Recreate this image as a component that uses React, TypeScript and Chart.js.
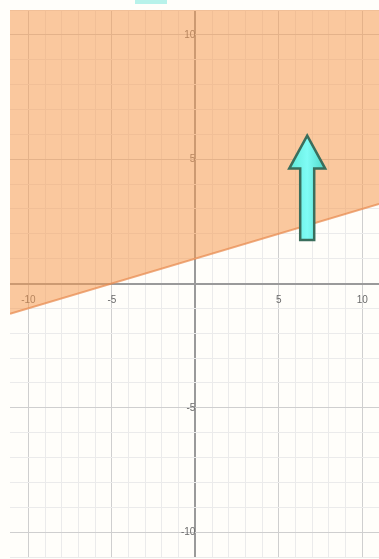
import React, { useEffect, useRef } from "react";
import { Chart, registerables } from "chart.js";

Chart.register(...registerables);

// Boundary line of the inequality y >= 0.2x + 1 (shaded above)
const boundaryX = [-11.1, 11];
const boundaryY = [-1.22, 3.2];

// Axis ranges and labelled ticks
const xRange = [-11.1, 11];
const yRange = [-11, 11];
const labelledTicks = [-10, -5, 5, 10];

// Arrow pointing up into the shaded region
const arrowX = [6.7];
const arrowFromY = [1.75];
const arrowToY = [5.95];

const arrowPlugin = {
  id: "arrowPlugin",
  afterDatasetsDraw(chart: any) {
    const { ctx, scales } = chart;
    const xs = scales.x;
    const ys = scales.y;
    for (let i = 0; i < arrowX.length; i++) {
      const px = xs.getPixelForValue(arrowX[i]);
      const top = ys.getPixelForValue(arrowToY[i]);
      const bottom = ys.getPixelForValue(arrowFromY[i]);
      const headH = 33;
      const headW = 18;
      const shaftW = 7;
      ctx.save();
      ctx.beginPath();
      ctx.moveTo(px, top);
      ctx.lineTo(px + headW, top + headH);
      ctx.lineTo(px + shaftW, top + headH);
      ctx.lineTo(px + shaftW, bottom);
      ctx.lineTo(px - shaftW, bottom);
      ctx.lineTo(px - shaftW, top + headH);
      ctx.lineTo(px - headW, top + headH);
      ctx.closePath();
      const g = ctx.createLinearGradient(px - headW, 0, px + headW, 0);
      g.addColorStop(0, "#5fe8d8");
      g.addColorStop(0.5, "#7ffcf5");
      g.addColorStop(1, "#4fd8c8");
      ctx.fillStyle = g;
      ctx.fill();
      ctx.lineWidth = 2.5;
      ctx.strokeStyle = "#3a6e5c";
      ctx.lineJoin = "miter";
      ctx.stroke();
      ctx.restore();
    }
  },
};

export default function App() {
  const ref = useRef<HTMLCanvasElement | null>(null);

  useEffect(() => {
    if (!ref.current) return;
    const gridColor = (c: any) => {
      const v = c.tick ? c.tick.value : 1;
      if (Math.abs(v) < 1e-9) return "#9a9a9a";
      if (Math.abs(v % 5) < 1e-9) return "#cfcfcf";
      return "#ebebeb";
    };
    const gridWidth = (c: any) => {
      const v = c.tick ? c.tick.value : 1;
      if (Math.abs(v) < 1e-9) return 2;
      if (Math.abs(v - Math.round(v)) > 1e-9) return 0;
      return 1;
    };
    const labelCb = (v: any) => (labelledTicks.includes(Number(v)) ? String(v) : "");
    const chart = new Chart(ref.current, {
      type: "line",
      data: {
        datasets: [
          {
            data: boundaryX.map((x, i) => ({ x, y: boundaryY[i] })),
            borderColor: "rgba(232,140,82,0.75)",
            borderWidth: 2,
            backgroundColor: "rgba(246,155,82,0.55)",
            fill: "end",
            pointRadius: 0,
            tension: 0,
          },
        ],
      },
      options: {
        animation: false,
        responsive: false,
        maintainAspectRatio: false,
        layout: { padding: { left: 10, top: 10, right: 0, bottom: 2 } },
        plugins: { legend: { display: false }, tooltip: { enabled: false } },
        scales: {
          x: {
            type: "linear",
            position: { y: 0 } as any,
            min: xRange[0],
            max: xRange[1],
            afterFit: (s: any) => {
              s.height = 0;
              s.paddingLeft = 0;
              s.paddingRight = 0;
            },
            grid: { color: gridColor, lineWidth: gridWidth, drawTicks: false },
            border: { display: false },
            ticks: {
              stepSize: 1,
              autoSkip: false,
              maxRotation: 0,
              padding: 11,
              color: "#6a6a6a",
              font: { family: "Arial, 'Liberation Sans', sans-serif", size: 10 },
              callback: labelCb,
            },
          },
          y: {
            type: "linear",
            position: { x: 0 } as any,
            min: yRange[0],
            max: yRange[1],
            afterFit: (s: any) => {
              s.width = 0;
              s.paddingTop = 0;
              s.paddingBottom = 0;
            },
            grid: { color: gridColor, lineWidth: gridWidth, drawTicks: false },
            border: { display: false },
            ticks: {
              stepSize: 1,
              autoSkip: false,
              padding: 4,
              color: "#6a6a6a",
              font: { family: "Arial, 'Liberation Sans', sans-serif", size: 10 },
              callback: labelCb,
            },
          },
        },
      },
      plugins: [arrowPlugin],
    });
    return () => chart.destroy();
  }, []);

  return (
    <div style={{ position: "fixed", left: 0, top: 0, width: 379, height: 559, background: "#fffefa", overflow: "hidden" }}>
      <div
        style={{
          position: "absolute",
          left: 135,
          top: 0,
          width: 32,
          height: 4,
          background: "#b8f2ea",
        }}
      />
      <canvas ref={ref} width={379} height={559} style={{ position: "absolute", left: 0, top: 0 }} />
    </div>
  );
}
